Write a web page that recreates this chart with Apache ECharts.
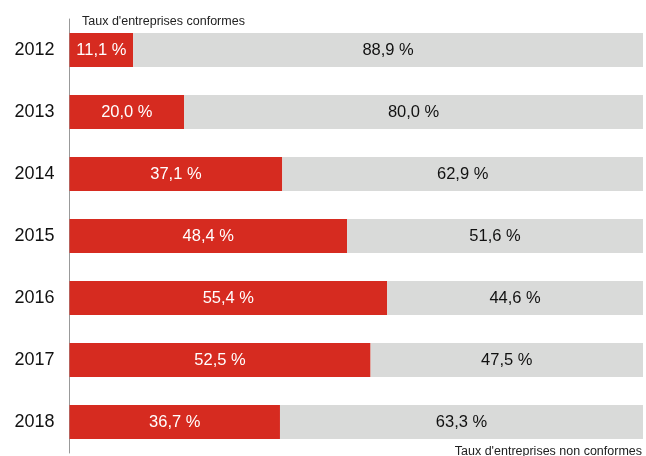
<!DOCTYPE html>
<html>
<head>
<meta charset="utf-8">
<script src="https://cdn.jsdelivr.net/npm/echarts@6/dist/echarts.min.js"></script>
<style>
  html, body { margin: 0; padding: 0; background: #fff; }
  #chart { width: 646px; height: 456px; }
</style>
</head>
<body>
<div id="chart"></div>
<script>
const years = ['2012', '2013', '2014', '2015', '2016', '2017', '2018']
const conformes = [11.1, 20.0, 37.1, 48.4, 55.4, 52.5, 36.7]
const nonConformes = [88.9, 80.0, 62.9, 51.6, 44.6, 47.5, 63.3]

const fmt = (v) => v.toFixed(1).replace('.', ',') + ' %'

const chart = echarts.init(document.getElementById('chart'))

chart.setOption({
  animation: false,
  textStyle: { fontFamily: 'Liberation Sans, Arial, sans-serif' },
  title: [
    {
      text: "Taux d'entreprises conformes",
      left: 77,
      top: 10,
      textStyle: { fontSize: 12.5, fontWeight: 'normal', color: '#222' }
    },
    {
      text: 'Taux d\'entreprises non conformes',
      right: -1,
      top: 440,
      textStyle: { fontSize: 12.5, fontWeight: 'normal', color: '#222' }
    }
  ],
  grid: { left: 69.5, right: 3, top: 19, height: 434 },
  xAxis: {
    type: 'value',
    min: 0,
    max: 100,
    show: false
  },
  yAxis: {
    type: 'category',
    data: years,
    inverse: true,
    axisLine: { show: true, lineStyle: { color: '#999', width: 1 } },
    axisTick: { show: false },
    axisLabel: { fontSize: 18, color: '#111', margin: 15 }
  },
  series: [
    {
      name: 'conformes',
      type: 'bar',
      stack: 'total',
      barWidth: 34,
      data: conformes,
      itemStyle: { color: '#d62b20' },
      label: {
        show: true,
        position: 'inside',
        color: '#fff',
        fontSize: 16.5,
        formatter: (p) => fmt(p.value)
      }
    },
    {
      name: 'non conformes',
      type: 'bar',
      stack: 'total',
      barWidth: 34,
      data: nonConformes,
      itemStyle: { color: '#d9dad9' },
      label: {
        show: true,
        position: 'inside',
        color: '#111',
        fontSize: 16.5,
        formatter: (p) => fmt(p.value)
      }
    }
  ]
})
</script>
</body>
</html>
